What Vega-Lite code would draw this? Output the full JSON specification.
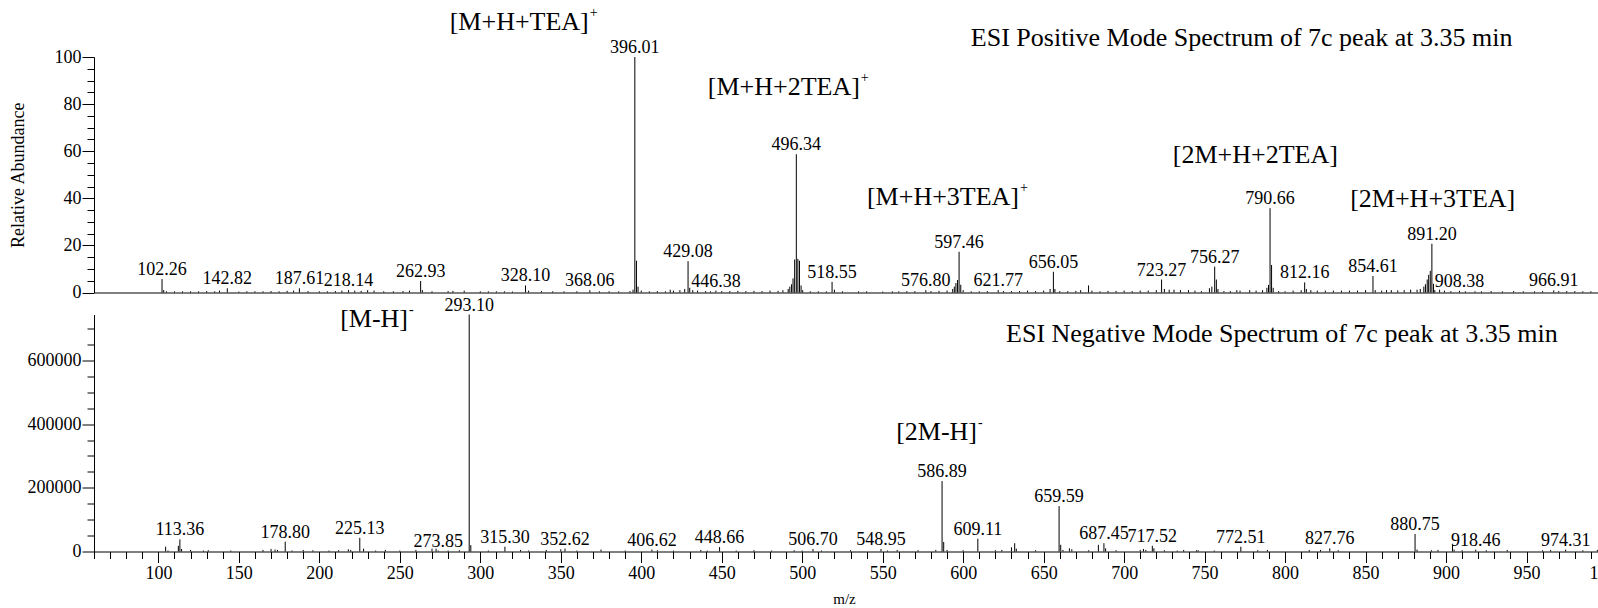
{
  "$schema": "https://vega.github.io/schema/vega-lite/v6.json",
  "padding": {"left": 8, "top": 6, "right": 0, "bottom": 0},
  "background": "white",
  "config": {
    "font": "Liberation Serif",
    "view": {"stroke": null},
    "axis": {"labelFont": "Liberation Serif", "titleFont": "Liberation Serif", "labelColor": "black", "titleColor": "black", "domainColor": "black", "tickColor": "black", "grid": false, "titleFontWeight": "normal"},
    "text": {"font": "Liberation Serif", "color": "black"}
  },
  "datasets": {
    "pos": [
      {"mz": 102.26, "ab": 5.7, "lab": 1}, {"mz": 103.3, "ab": 1.0}, {"mz": 105, "ab": 0.5}, {"mz": 110, "ab": 0.5}, {"mz": 115, "ab": 0.5}, {"mz": 120, "ab": 0.5}, {"mz": 125, "ab": 0.5}, {"mz": 130, "ab": 0.6}, {"mz": 135, "ab": 0.5}, {"mz": 138, "ab": 0.8},
      {"mz": 142.82, "ab": 1.8, "lab": 1}, {"mz": 150, "ab": 0.4}, {"mz": 155, "ab": 0.5}, {"mz": 160, "ab": 0.5}, {"mz": 165, "ab": 0.5}, {"mz": 170, "ab": 0.6}, {"mz": 175, "ab": 0.5}, {"mz": 180, "ab": 0.7}, {"mz": 184, "ab": 0.8},
      {"mz": 187.61, "ab": 1.8, "lab": 1}, {"mz": 193, "ab": 0.6}, {"mz": 200, "ab": 0.5}, {"mz": 205, "ab": 0.5}, {"mz": 210, "ab": 0.6}, {"mz": 214, "ab": 0.8}, {"mz": 218.14, "ab": 1.0, "lab": 1}, {"mz": 222, "ab": 0.8}, {"mz": 226, "ab": 0.7}, {"mz": 230, "ab": 1.0}, {"mz": 234, "ab": 0.8}, {"mz": 240, "ab": 0.5}, {"mz": 246, "ab": 0.5}, {"mz": 252, "ab": 0.6}, {"mz": 256, "ab": 0.8},
      {"mz": 262.93, "ab": 4.9, "lab": 1}, {"mz": 264, "ab": 1.0}, {"mz": 270, "ab": 0.5}, {"mz": 280, "ab": 0.6}, {"mz": 283, "ab": 0.7}, {"mz": 290, "ab": 0.8}, {"mz": 300, "ab": 0.5}, {"mz": 305, "ab": 0.5}, {"mz": 310, "ab": 0.5}, {"mz": 315, "ab": 0.5}, {"mz": 320, "ab": 0.4},
      {"mz": 328.10, "ab": 3.0, "lab": 1}, {"mz": 330, "ab": 0.8}, {"mz": 338, "ab": 0.6}, {"mz": 345, "ab": 0.5}, {"mz": 352, "ab": 0.5}, {"mz": 360, "ab": 0.5}, {"mz": 368.06, "ab": 1.0, "lab": 1}, {"mz": 374, "ab": 0.5}, {"mz": 380, "ab": 0.5}, {"mz": 386, "ab": 0.5}, {"mz": 393, "ab": 0.6}, {"mz": 394.9, "ab": 1.2},
      {"mz": 396.01, "ab": 100, "lab": 1}, {"mz": 397.02, "ab": 13.5}, {"mz": 398.0, "ab": 2.5}, {"mz": 400, "ab": 0.8}, {"mz": 405, "ab": 0.5}, {"mz": 410, "ab": 0.6}, {"mz": 415, "ab": 0.5}, {"mz": 418, "ab": 1.2}, {"mz": 420, "ab": 0.8}, {"mz": 424, "ab": 1.0}, {"mz": 427, "ab": 1.5},
      {"mz": 429.08, "ab": 13.3, "lab": 1}, {"mz": 430.1, "ab": 2.0}, {"mz": 432, "ab": 1.0}, {"mz": 435, "ab": 0.8}, {"mz": 440, "ab": 0.6}, {"mz": 443, "ab": 0.5}, {"mz": 446.38, "ab": 0.8, "lab": 1}, {"mz": 450, "ab": 0.6}, {"mz": 455, "ab": 0.6}, {"mz": 460, "ab": 0.7}, {"mz": 465, "ab": 0.6}, {"mz": 470, "ab": 0.7}, {"mz": 475, "ab": 0.6}, {"mz": 480, "ab": 0.8}, {"mz": 485, "ab": 0.7}, {"mz": 488, "ab": 1.0},
      {"mz": 491.3, "ab": 1.5}, {"mz": 492.3, "ab": 2.5}, {"mz": 493.4, "ab": 3.5}, {"mz": 494.3, "ab": 6.0}, {"mz": 495.3, "ab": 14.0}, {"mz": 496.34, "ab": 58.7, "lab": 1}, {"mz": 497.3, "ab": 14.3}, {"mz": 498.3, "ab": 13.5}, {"mz": 499.3, "ab": 3.0}, {"mz": 500.3, "ab": 1.0},
      {"mz": 505, "ab": 0.5}, {"mz": 510, "ab": 0.5}, {"mz": 515, "ab": 0.5}, {"mz": 518.55, "ab": 4.5, "lab": 1}, {"mz": 520, "ab": 1.2}, {"mz": 525, "ab": 0.5}, {"mz": 535, "ab": 0.5}, {"mz": 540, "ab": 0.5}, {"mz": 550, "ab": 0.4}, {"mz": 556, "ab": 0.5}, {"mz": 560, "ab": 0.5}, {"mz": 565, "ab": 0.6}, {"mz": 570, "ab": 0.6},
      {"mz": 576.80, "ab": 1.0, "lab": 1}, {"mz": 580, "ab": 0.6}, {"mz": 585, "ab": 0.7}, {"mz": 590, "ab": 0.8}, {"mz": 593.5, "ab": 1.5}, {"mz": 594.5, "ab": 2.5}, {"mz": 595.5, "ab": 4.0}, {"mz": 596.5, "ab": 5.3}, {"mz": 597.46, "ab": 17.3, "lab": 1}, {"mz": 598.5, "ab": 3.3}, {"mz": 600, "ab": 1.0},
      {"mz": 605, "ab": 0.5}, {"mz": 610, "ab": 0.5}, {"mz": 615, "ab": 0.6}, {"mz": 621.77, "ab": 1.0, "lab": 1}, {"mz": 625, "ab": 0.6}, {"mz": 630, "ab": 0.6}, {"mz": 635, "ab": 0.6}, {"mz": 640, "ab": 0.8}, {"mz": 645, "ab": 0.6}, {"mz": 650, "ab": 0.8}, {"mz": 654, "ab": 1.5},
      {"mz": 656.05, "ab": 8.8, "lab": 1}, {"mz": 657, "ab": 1.5}, {"mz": 660, "ab": 0.6}, {"mz": 665, "ab": 0.6}, {"mz": 670, "ab": 0.7}, {"mz": 673, "ab": 1.0}, {"mz": 677.9, "ab": 3.0}, {"mz": 680, "ab": 0.8}, {"mz": 685, "ab": 0.5}, {"mz": 690, "ab": 0.7}, {"mz": 695, "ab": 0.7}, {"mz": 700, "ab": 0.8}, {"mz": 705, "ab": 0.6}, {"mz": 710, "ab": 0.8}, {"mz": 715, "ab": 0.8}, {"mz": 720, "ab": 1.0},
      {"mz": 723.27, "ab": 5.5, "lab": 1}, {"mz": 725, "ab": 1.5}, {"mz": 728, "ab": 1.2}, {"mz": 731, "ab": 1.2}, {"mz": 735, "ab": 1.0}, {"mz": 740, "ab": 1.0}, {"mz": 744, "ab": 0.8}, {"mz": 748, "ab": 0.6}, {"mz": 753, "ab": 1.8}, {"mz": 754.5, "ab": 2.5},
      {"mz": 756.27, "ab": 11.0, "lab": 1}, {"mz": 757.3, "ab": 5.5}, {"mz": 758.3, "ab": 1.5}, {"mz": 762, "ab": 0.6}, {"mz": 766, "ab": 0.6}, {"mz": 770, "ab": 1.0}, {"mz": 772, "ab": 0.8}, {"mz": 778, "ab": 1.0}, {"mz": 782, "ab": 0.8}, {"mz": 786, "ab": 1.0}, {"mz": 788.7, "ab": 2.0}, {"mz": 789.7, "ab": 3.2},
      {"mz": 790.66, "ab": 35.8, "lab": 1}, {"mz": 791.6, "ab": 11.7}, {"mz": 792.6, "ab": 2.0}, {"mz": 796, "ab": 0.6}, {"mz": 800, "ab": 0.5}, {"mz": 805, "ab": 0.8}, {"mz": 810, "ab": 1.0}, {"mz": 812.16, "ab": 4.3, "lab": 1}, {"mz": 813.2, "ab": 1.5}, {"mz": 816, "ab": 1.0},
      {"mz": 820, "ab": 0.8}, {"mz": 825, "ab": 0.8}, {"mz": 830, "ab": 0.8}, {"mz": 835, "ab": 0.8}, {"mz": 840, "ab": 0.8}, {"mz": 845, "ab": 0.8}, {"mz": 850, "ab": 1.0}, {"mz": 854.61, "ab": 7.0, "lab": 1}, {"mz": 856, "ab": 1.0}, {"mz": 860, "ab": 0.8}, {"mz": 863, "ab": 1.0}, {"mz": 866, "ab": 1.0}, {"mz": 870, "ab": 0.9}, {"mz": 874, "ab": 1.0}, {"mz": 878, "ab": 1.2}, {"mz": 882, "ab": 1.2}, {"mz": 884, "ab": 1.5},
      {"mz": 886.2, "ab": 2.5}, {"mz": 887.2, "ab": 3.5}, {"mz": 888.3, "ab": 5.5}, {"mz": 889.2, "ab": 7.5}, {"mz": 890.2, "ab": 9.2}, {"mz": 891.20, "ab": 20.7, "lab": 1}, {"mz": 892.2, "ab": 3.7}, {"mz": 893, "ab": 1.0}, {"mz": 896, "ab": 1.2}, {"mz": 899, "ab": 0.8}, {"mz": 903, "ab": 0.6},
      {"mz": 908.38, "ab": 0.7, "lab": 1}, {"mz": 912, "ab": 0.5}, {"mz": 918, "ab": 0.5}, {"mz": 922, "ab": 0.5}, {"mz": 928, "ab": 0.6}, {"mz": 935, "ab": 0.5}, {"mz": 942, "ab": 0.6}, {"mz": 948, "ab": 0.5}, {"mz": 955, "ab": 0.5}, {"mz": 960, "ab": 0.6}, {"mz": 966.91, "ab": 0.9, "lab": 1}, {"mz": 970, "ab": 0.6}, {"mz": 975, "ab": 0.6}, {"mz": 980, "ab": 0.6}, {"mz": 985, "ab": 0.5}, {"mz": 990, "ab": 0.5}, {"mz": 995, "ab": 0.5}
    ],
    "neg": [
      {"mz": 104.5, "ab": 15000}, {"mz": 106, "ab": 3000}, {"mz": 112.4, "ab": 18000}, {"mz": 113.36, "ab": 38000, "lab": 1}, {"mz": 114.4, "ab": 8000}, {"mz": 120, "ab": 5000}, {"mz": 128, "ab": 3000}, {"mz": 131, "ab": 4000}, {"mz": 145, "ab": 3000}, {"mz": 165, "ab": 5000}, {"mz": 170, "ab": 8000}, {"mz": 172.5, "ab": 6000}, {"mz": 174, "ab": 5000},
      {"mz": 178.80, "ab": 31000, "lab": 1}, {"mz": 183, "ab": 3000}, {"mz": 190, "ab": 5000}, {"mz": 196, "ab": 4000}, {"mz": 206, "ab": 3000}, {"mz": 212, "ab": 4000}, {"mz": 218, "ab": 7000}, {"mz": 219.5, "ab": 5000}, {"mz": 225.13, "ab": 43000, "lab": 1}, {"mz": 227.5, "ab": 9000}, {"mz": 235, "ab": 3000}, {"mz": 241, "ab": 5000}, {"mz": 250, "ab": 3000}, {"mz": 260, "ab": 5000}, {"mz": 270, "ab": 9000}, {"mz": 272.5, "ab": 9000},
      {"mz": 273.85, "ab": 3000, "lab": 1}, {"mz": 280, "ab": 3000}, {"mz": 287, "ab": 4000}, {"mz": 293.10, "ab": 744000, "lab": 1}, {"mz": 294.1, "ab": 20000}, {"mz": 305, "ab": 3000}, {"mz": 315.30, "ab": 15000, "lab": 1}, {"mz": 325, "ab": 5000}, {"mz": 330, "ab": 3000}, {"mz": 341, "ab": 5000}, {"mz": 350, "ab": 7000}, {"mz": 352.62, "ab": 9000, "lab": 1}, {"mz": 360, "ab": 3000}, {"mz": 375, "ab": 6000}, {"mz": 390, "ab": 3000},
      {"mz": 406.62, "ab": 6000, "lab": 1}, {"mz": 410, "ab": 4000}, {"mz": 420, "ab": 3000}, {"mz": 437, "ab": 5000}, {"mz": 441, "ab": 3000}, {"mz": 448.66, "ab": 14000, "lab": 1}, {"mz": 459, "ab": 3000}, {"mz": 470, "ab": 4000}, {"mz": 481, "ab": 3000}, {"mz": 495, "ab": 4000}, {"mz": 500, "ab": 3000}, {"mz": 506.70, "ab": 8000, "lab": 1}, {"mz": 512, "ab": 3000}, {"mz": 530, "ab": 4000}, {"mz": 548.95, "ab": 8000, "lab": 1}, {"mz": 553, "ab": 3000}, {"mz": 559, "ab": 5000}, {"mz": 572, "ab": 4000}, {"mz": 583, "ab": 5000},
      {"mz": 586.89, "ab": 221000, "lab": 1}, {"mz": 587.9, "ab": 30000}, {"mz": 590, "ab": 5000}, {"mz": 600, "ab": 4000}, {"mz": 609.11, "ab": 39900, "lab": 1}, {"mz": 620, "ab": 4000}, {"mz": 624, "ab": 5000}, {"mz": 630, "ab": 13000}, {"mz": 632, "ab": 26000}, {"mz": 633, "ab": 9000}, {"mz": 645, "ab": 4000},
      {"mz": 659.59, "ab": 142500, "lab": 1}, {"mz": 660.6, "ab": 21000}, {"mz": 662, "ab": 5000}, {"mz": 666, "ab": 10000}, {"mz": 667.5, "ab": 7000}, {"mz": 678, "ab": 4000}, {"mz": 684, "ab": 21000}, {"mz": 687.45, "ab": 26000, "lab": 1}, {"mz": 688.5, "ab": 10000}, {"mz": 695, "ab": 4000}, {"mz": 710, "ab": 5000}, {"mz": 712, "ab": 8000}, {"mz": 713.5, "ab": 5000},
      {"mz": 717.52, "ab": 18000, "lab": 1}, {"mz": 718.5, "ab": 10000}, {"mz": 725, "ab": 4000}, {"mz": 733, "ab": 3000}, {"mz": 737, "ab": 5000}, {"mz": 745, "ab": 4000}, {"mz": 746, "ab": 4000}, {"mz": 756, "ab": 3000}, {"mz": 772.51, "ab": 15000, "lab": 1}, {"mz": 783, "ab": 4000}, {"mz": 789, "ab": 5000}, {"mz": 815, "ab": 5000}, {"mz": 822, "ab": 5000}, {"mz": 827.76, "ab": 10000, "lab": 1}, {"mz": 833, "ab": 4000},
      {"mz": 880.75, "ab": 55000, "lab": 1}, {"mz": 882, "ab": 6000}, {"mz": 891, "ab": 4000}, {"mz": 895, "ab": 5000}, {"mz": 904, "ab": 22000}, {"mz": 905, "ab": 6000}, {"mz": 910, "ab": 4000}, {"mz": 918.46, "ab": 6000, "lab": 1}, {"mz": 925, "ab": 4000}, {"mz": 938, "ab": 5000}, {"mz": 960, "ab": 4000}, {"mz": 965, "ab": 5000}, {"mz": 974.31, "ab": 6000, "lab": 1}, {"mz": 985, "ab": 4000}, {"mz": 994, "ab": 5000}
    ],
    "posAnn": [
      {"mz": 367.4, "ab": 111.3, "label": "[M+H+TEA]", "sup": "+"},
      {"mz": 535.8, "ab": 83.9, "label": "[M+H+2TEA]", "sup": "+"},
      {"mz": 634.7, "ab": 37.0, "label": "[M+H+3TEA]", "sup": "+"},
      {"mz": 832.8, "ab": 55.0, "label": "[2M+H+2TEA]", "sup": ""},
      {"mz": 943.0, "ab": 36.3, "label": "[2M+H+3TEA]", "sup": ""}
    ],
    "negAnn": [
      {"mz": 255.1, "ab": 706000, "label": "[M-H]", "sup": "-"},
      {"mz": 608.6, "ab": 351000, "label": "[2M-H]", "sup": "-"}
    ]
  },
  "spacing": 21.5,
  "bounds": "flush",
  "vconcat": [
    {
      "width": 1513,
      "height": 235.5,
      "encoding": {
        "x": {"field": "mz", "type": "quantitative", "scale": {"domain": [60, 1000], "nice": false, "zero": false}, "axis": {"domain": true, "ticks": false, "labels": false, "title": null}},
        "y": {"field": "ab", "type": "quantitative", "scale": {"domain": [0, 100], "nice": false}, "axis": {
          "title": "Relative Abundance", "titleFont": "Liberation Serif", "titleFontSize": 18, "titleX": -76, "titleBaseline": "middle",
          "values": [0,5,10,15,20,25,30,35,40,45,50,55,60,65,70,75,80,85,90,95,100],
          "labelExpr": "datum.value % 20 === 0 ? datum.label : ''",
          "labelFont": "Liberation Serif", "labelFontSize": 18, "labelPadding": 1, "labelOverlap": false,
          "tickSize": {"condition": {"test": "datum.value % 20 === 0", "value": 12}, "value": 7}
        }}
      },
      "layer": [
        {"data": {"name": "pos"}, "mark": {"type": "rule", "color": "black", "strokeWidth": 1}, "encoding": {"y2": {"datum": 0}}},
        {"data": {"name": "pos"}, "transform": [{"filter": "datum.lab === 1"}], "mark": {"type": "text", "font": "Liberation Serif", "baseline": "alphabetic", "dy": -4, "fontSize": 18}, "encoding": {"text": {"field": "mz", "type": "quantitative", "format": ".2f"}}},
        {"data": {"name": "posAnn"}, "mark": {"type": "text", "font": "Liberation Serif", "align": "right", "baseline": "alphabetic", "fontSize": 26}, "encoding": {"text": {"field": "label"}}},
        {"data": {"name": "posAnn"}, "mark": {"type": "text", "font": "Liberation Serif", "align": "left", "baseline": "alphabetic", "fontSize": 14, "dx": 1, "dy": -13}, "encoding": {"text": {"field": "sup"}}},
        {"data": {"values": [{"mz": 773, "ab": 104.7, "t": "ESI Positive Mode Spectrum of 7c peak at 3.35 min"}]}, "mark": {"type": "text", "font": "Liberation Serif", "align": "center", "baseline": "alphabetic", "fontSize": 26}, "encoding": {"text": {"field": "t"}}}
      ]
    },
    {
      "width": 1513,
      "height": 237,
      "encoding": {
        "x": {"field": "mz", "type": "quantitative", "scale": {"domain": [60, 1000], "nice": false, "zero": false}, "axis": {
          "title": "m/z", "titleFont": "Liberation Serif", "titleFontSize": 15, "titleX": 750, "titleY": 47, "titleBaseline": "middle",
          "values": [60,70,80,90,100,110,120,130,140,150,160,170,180,190,200,210,220,230,240,250,260,270,280,290,300,310,320,330,340,350,360,370,380,390,400,410,420,430,440,450,460,470,480,490,500,510,520,530,540,550,560,570,580,590,600,610,620,630,640,650,660,670,680,690,700,710,720,730,740,750,760,770,780,790,800,810,820,830,840,850,860,870,880,890,900,910,920,930,940,950,960,970,980,990,1000],
          "labelExpr": "datum.value % 50 === 0 ? datum.label : ''",
          "labelFont": "Liberation Serif", "labelFontSize": 18, "labelPadding": 2, "labelOverlap": false, "labelFlush": false, "format": "d",
          "tickSize": {"condition": {"test": "datum.value % 50 === 0", "value": 11}, "value": 7}
        }},
        "y": {"field": "ab", "type": "quantitative", "scale": {"domain": [0, 744000], "nice": false}, "axis": {
          "title": null,
          "values": [0,50000,100000,150000,200000,250000,300000,350000,400000,450000,500000,550000,600000,650000,700000],
          "labelExpr": "datum.value % 200000 === 0 ? format(datum.value, 'd') : ''",
          "labelFont": "Liberation Serif", "labelFontSize": 18, "labelPadding": 1, "labelOverlap": false,
          "tickSize": {"condition": {"test": "datum.value % 200000 === 0", "value": 12}, "value": 7}
        }}
      },
      "layer": [
        {"data": {"name": "neg"}, "mark": {"type": "rule", "color": "black", "strokeWidth": 1}, "encoding": {"y2": {"datum": 0}}},
        {"data": {"name": "neg"}, "transform": [{"filter": "datum.lab === 1"}], "mark": {"type": "text", "font": "Liberation Serif", "baseline": "alphabetic", "dy": -4, "fontSize": 18}, "encoding": {"text": {"field": "mz", "type": "quantitative", "format": ".2f"}}},
        {"data": {"name": "negAnn"}, "mark": {"type": "text", "font": "Liberation Serif", "align": "right", "baseline": "alphabetic", "fontSize": 26}, "encoding": {"text": {"field": "label"}}},
        {"data": {"name": "negAnn"}, "mark": {"type": "text", "font": "Liberation Serif", "align": "left", "baseline": "alphabetic", "fontSize": 14, "dx": 1, "dy": -13}, "encoding": {"text": {"field": "sup"}}},
        {"data": {"values": [{"mz": 798, "ab": 657000, "t": "ESI Negative Mode Spectrum of 7c peak at 3.35 min"}]}, "mark": {"type": "text", "font": "Liberation Serif", "align": "center", "baseline": "alphabetic", "fontSize": 26}, "encoding": {"text": {"field": "t"}}}
      ]
    }
  ]
}
